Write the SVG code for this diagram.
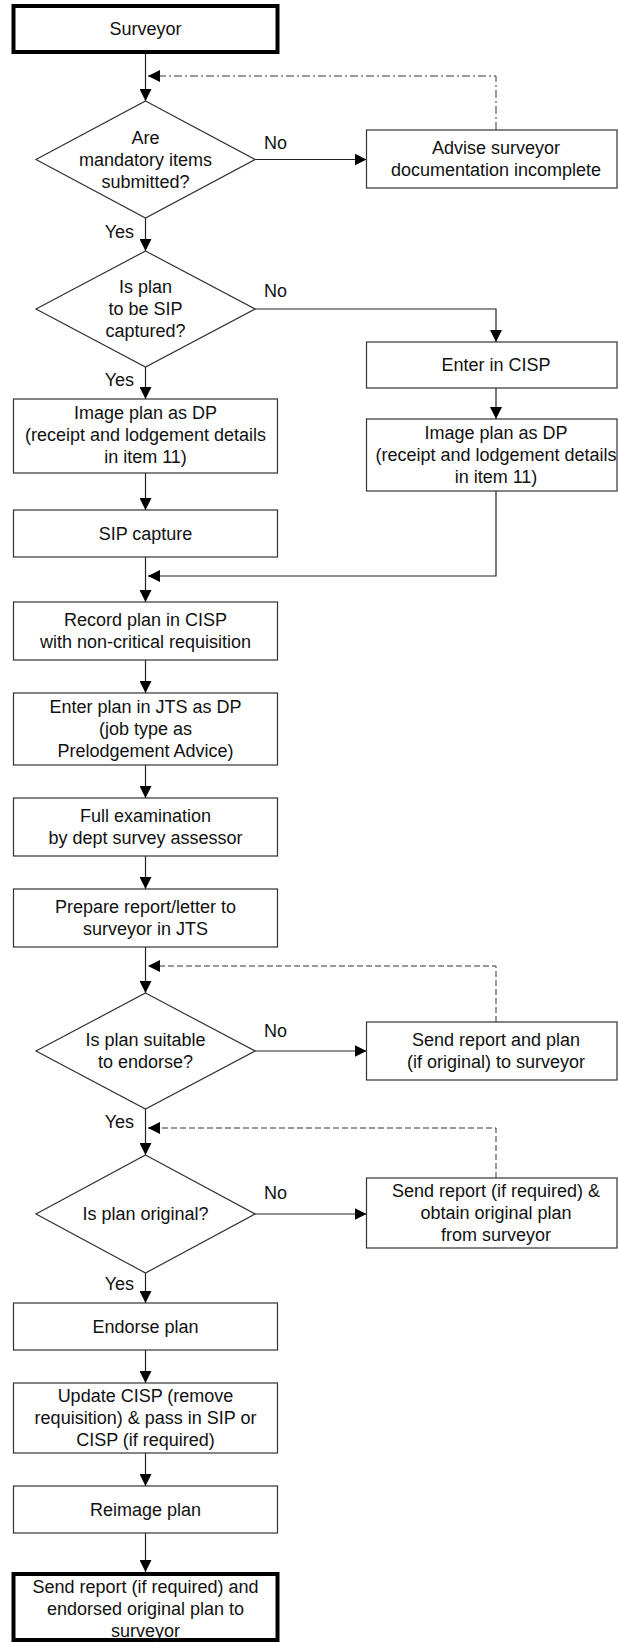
<svg xmlns="http://www.w3.org/2000/svg" width="618" height="1642" viewBox="0 0 618 1642">
  <style>
    .box { fill: #ffffff; stroke: #333333; stroke-width: 1.2; }
    .term { fill: #ffffff; stroke: #000000; stroke-width: 4; }
    .dec { fill: #ffffff; stroke: #333333; stroke-width: 1.2; }
    .lbl { font-family: "Liberation Sans", Arial, sans-serif; font-size: 18px; fill: #111111; text-anchor: middle; }
    .edge { font-family: "Liberation Sans", Arial, sans-serif; font-size: 18px; fill: #111111; }
    .flow { fill: none; stroke: #222222; stroke-width: 1.2; }
    .dashdot { fill: none; stroke: #333333; stroke-width: 1; stroke-dasharray: 8 3 2 3; }
    .dash { fill: none; stroke: #333333; stroke-width: 1; stroke-dasharray: 6 3; }
  </style>
  <defs>
    <marker id="arrow" markerUnits="userSpaceOnUse" markerWidth="12" markerHeight="12" viewBox="0 0 12 12" refX="12" refY="6" orient="auto">
      <path d="M0,0 L12,6 L0,12 z" fill="#000000"/>
    </marker>
  </defs>

  <!-- connectors -->
  <g id="connectors">
    <path class="flow" d="M145.5,54 V101" marker-end="url(#arrow)"/>
    <path class="dashdot" d="M496,130 V76 H148" marker-end="url(#arrow)"/>
    <path class="flow" d="M255,159.5 H366.5" marker-end="url(#arrow)"/>
    <path class="flow" d="M145.5,218 V251" marker-end="url(#arrow)"/>
    <path class="flow" d="M255,309 H496 V342" marker-end="url(#arrow)"/>
    <path class="flow" d="M145.5,367 V399" marker-end="url(#arrow)"/>
    <path class="flow" d="M496,388 V419" marker-end="url(#arrow)"/>
    <path class="flow" d="M145.5,473 V510" marker-end="url(#arrow)"/>
    <path class="flow" d="M496,491 V576 H148" marker-end="url(#arrow)"/>
    <path class="flow" d="M145.5,557 V602" marker-end="url(#arrow)"/>
    <path class="flow" d="M145.5,660 V693" marker-end="url(#arrow)"/>
    <path class="flow" d="M145.5,765 V798" marker-end="url(#arrow)"/>
    <path class="flow" d="M145.5,856 V889" marker-end="url(#arrow)"/>
    <path class="flow" d="M145.5,947 V993" marker-end="url(#arrow)"/>
    <path class="dash" d="M496,1022 V966 H148" marker-end="url(#arrow)"/>
    <path class="flow" d="M255,1051 H366.5" marker-end="url(#arrow)"/>
    <path class="flow" d="M145.5,1109 V1155" marker-end="url(#arrow)"/>
    <path class="dash" d="M496,1178 V1128 H148" marker-end="url(#arrow)"/>
    <path class="flow" d="M255,1214 H366.5" marker-end="url(#arrow)"/>
    <path class="flow" d="M145.5,1273 V1303" marker-end="url(#arrow)"/>
    <path class="flow" d="M145.5,1350 V1383" marker-end="url(#arrow)"/>
    <path class="flow" d="M145.5,1453 V1486" marker-end="url(#arrow)"/>
    <path class="flow" d="M145.5,1533 V1572" marker-end="url(#arrow)"/>

    <text class="edge" x="264" y="149">No</text>
    <text class="edge" x="134" y="238" text-anchor="end">Yes</text>
    <text class="edge" x="264" y="297">No</text>
    <text class="edge" x="134" y="386" text-anchor="end">Yes</text>
    <text class="edge" x="264" y="1037">No</text>
    <text class="edge" x="134" y="1128" text-anchor="end">Yes</text>
    <text class="edge" x="264" y="1199">No</text>
    <text class="edge" x="134" y="1290" text-anchor="end">Yes</text>
  </g>

  <!-- start -->
  <g id="surveyor">
    <rect class="term" x="13.5" y="6" width="264" height="46"/>
    <text class="lbl" x="145.5" y="35">Surveyor</text>
  </g>

  <g id="mandatory-items">
    <polygon class="dec" points="145.5,101 255,159.5 145.5,218 36,159.5"/>
    <text class="lbl" x="145.5" y="144">Are</text>
    <text class="lbl" x="145.5" y="166">mandatory items</text>
    <text class="lbl" x="145.5" y="188">submitted?</text>
  </g>

  <g id="advise-surveyor">
    <rect class="box" x="366.5" y="130" width="250.5" height="58"/>
    <text class="lbl" x="496" y="154">Advise surveyor</text>
    <text class="lbl" x="496" y="176">documentation incomplete</text>
  </g>

  <g id="sip-captured">
    <polygon class="dec" points="145.5,251 255,309 145.5,367 36,309"/>
    <text class="lbl" x="145.5" y="293">Is plan</text>
    <text class="lbl" x="145.5" y="315">to be SIP</text>
    <text class="lbl" x="145.5" y="337">captured?</text>
  </g>

  <g id="enter-cisp">
    <rect class="box" x="366.5" y="342" width="250.5" height="46"/>
    <text class="lbl" x="496" y="371">Enter in CISP</text>
  </g>

  <g id="image-plan-left">
    <rect class="box" x="13.5" y="399" width="264" height="74"/>
    <text class="lbl" x="145.5" y="419">Image plan as DP</text>
    <text class="lbl" x="145.5" y="441">(receipt and lodgement details</text>
    <text class="lbl" x="145.5" y="463">in item 11)</text>
  </g>

  <g id="image-plan-right">
    <rect class="box" x="366.5" y="419" width="250.5" height="72"/>
    <text class="lbl" x="496" y="439">Image plan as DP</text>
    <text class="lbl" x="496" y="461">(receipt and lodgement details</text>
    <text class="lbl" x="496" y="483">in item 11)</text>
  </g>

  <g id="sip-capture">
    <rect class="box" x="13.5" y="510" width="264" height="47"/>
    <text class="lbl" x="145.5" y="539.5">SIP capture</text>
  </g>

  <g id="record-plan">
    <rect class="box" x="13.5" y="602" width="264" height="58"/>
    <text class="lbl" x="145.5" y="626">Record plan in CISP</text>
    <text class="lbl" x="145.5" y="648">with non-critical requisition</text>
  </g>

  <g id="enter-jts">
    <rect class="box" x="13.5" y="693" width="264" height="72"/>
    <text class="lbl" x="145.5" y="713">Enter plan in JTS as DP</text>
    <text class="lbl" x="145.5" y="735">(job type as</text>
    <text class="lbl" x="145.5" y="757">Prelodgement Advice)</text>
  </g>

  <g id="full-examination">
    <rect class="box" x="13.5" y="798" width="264" height="58"/>
    <text class="lbl" x="145.5" y="822">Full examination</text>
    <text class="lbl" x="145.5" y="844">by dept survey assessor</text>
  </g>

  <g id="prepare-report">
    <rect class="box" x="13.5" y="889" width="264" height="58"/>
    <text class="lbl" x="145.5" y="913">Prepare report/letter to</text>
    <text class="lbl" x="145.5" y="935">surveyor in JTS</text>
  </g>

  <g id="suitable-to-endorse">
    <polygon class="dec" points="145.5,993 255,1051 145.5,1109 36,1051"/>
    <text class="lbl" x="145.5" y="1046">Is plan suitable</text>
    <text class="lbl" x="145.5" y="1068">to endorse?</text>
  </g>

  <g id="send-report-plan">
    <rect class="box" x="366.5" y="1022" width="250.5" height="58"/>
    <text class="lbl" x="496" y="1046">Send report and plan</text>
    <text class="lbl" x="496" y="1068">(if original) to surveyor</text>
  </g>

  <g id="plan-original">
    <polygon class="dec" points="145.5,1155 255,1214 145.5,1273 36,1214"/>
    <text class="lbl" x="145.5" y="1220">Is plan original?</text>
  </g>

  <g id="obtain-original">
    <rect class="box" x="366.5" y="1178" width="250.5" height="70"/>
    <text class="lbl" x="496" y="1197">Send report (if required) &amp;</text>
    <text class="lbl" x="496" y="1219">obtain original plan</text>
    <text class="lbl" x="496" y="1241">from surveyor</text>
  </g>

  <g id="endorse-plan">
    <rect class="box" x="13.5" y="1303" width="264" height="47"/>
    <text class="lbl" x="145.5" y="1332.5">Endorse plan</text>
  </g>

  <g id="update-cisp">
    <rect class="box" x="13.5" y="1383" width="264" height="70"/>
    <text class="lbl" x="145.5" y="1402">Update CISP (remove</text>
    <text class="lbl" x="145.5" y="1424">requisition) &amp; pass in SIP or</text>
    <text class="lbl" x="145.5" y="1446">CISP (if required)</text>
  </g>

  <g id="reimage-plan">
    <rect class="box" x="13.5" y="1486" width="264" height="47"/>
    <text class="lbl" x="145.5" y="1515.5">Reimage plan</text>
  </g>

  <!-- end -->
  <g id="send-endorsed-plan">
    <rect class="term" x="13.5" y="1574" width="264" height="66"/>
    <text class="lbl" x="145.5" y="1593">Send report (if required) and</text>
    <text class="lbl" x="145.5" y="1615">endorsed original plan to</text>
    <text class="lbl" x="145.5" y="1637">surveyor</text>
  </g>
</svg>
